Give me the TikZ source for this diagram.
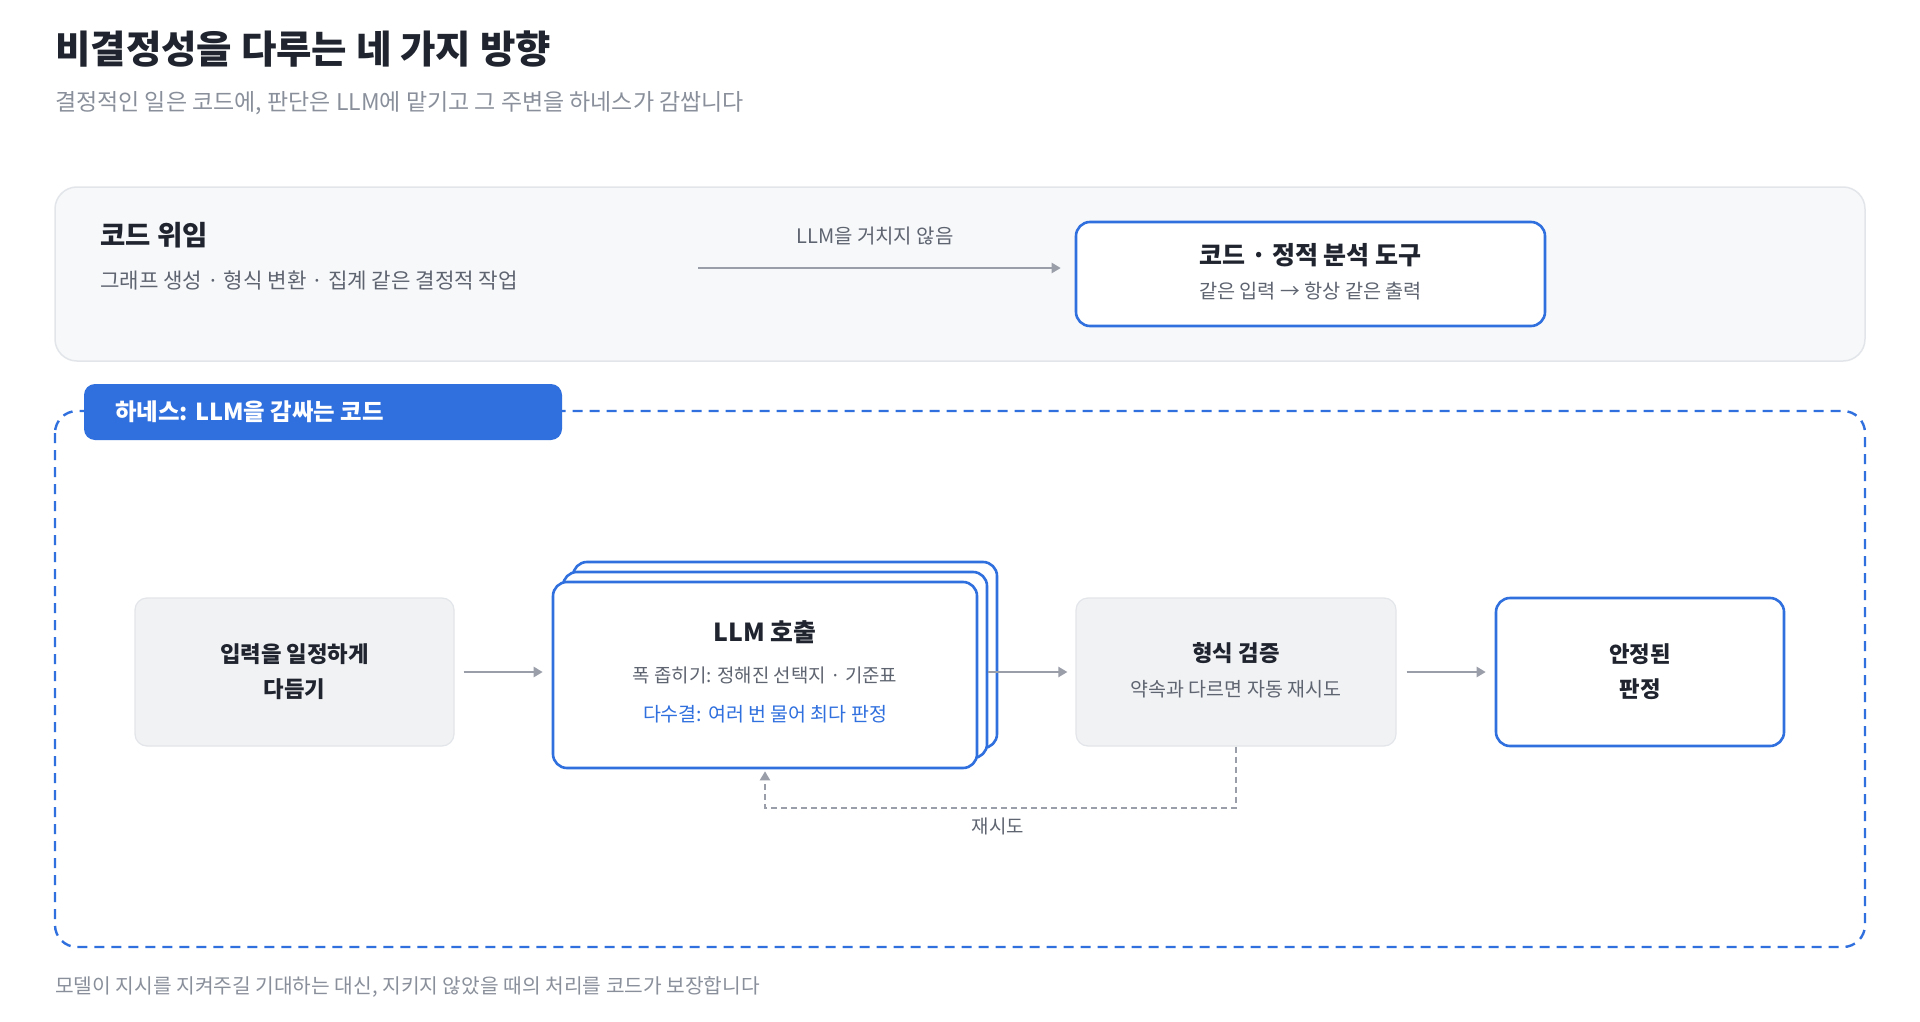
\documentclass[tikz,border=0pt]{standalone}
\usepackage{fontspec}
\setmainfont{Noto Sans CJK KR}
\usetikzlibrary{arrows.meta,positioning,calc}
\definecolor{mainblue}{RGB}{47,111,222}
\definecolor{darktext}{RGB}{31,36,46}
\definecolor{midgray}{RGB}{94,100,112}
\definecolor{lightgray}{RGB}{138,144,155}
\definecolor{panelfill}{RGB}{247,248,250}
\definecolor{panelline}{RGB}{226,229,233}
\definecolor{nodefill}{RGB}{241,242,244}
\definecolor{arrowgray}{RGB}{154,158,168}
\newcommand{\fs}[1]{\fontsize{#1}{#1}\selectfont}
\tikzset{
  graybox/.style={draw=panelline, line width=1.2pt, fill=nodefill, rounded corners=12pt, inner sep=0pt},
  bluebox/.style={draw=mainblue, line width=2.6pt, fill=white, rounded corners=14pt, inner sep=0pt},
  flowarrow/.style={draw=arrowgray, line width=2.6pt, -{Triangle[length=9pt,width=10pt]}},
  txt/.style={inner sep=0pt, text=darktext},
}
\begin{document}
\begin{tikzpicture}[x=1pt,y=-1pt]
\useasboundingbox (0,0) rectangle (1920,1022);
\fill[white] (0,0) rectangle (1920,1022);

% title and subtitle
\node[txt, anchor=west, font=\fs{38.5}\bfseries] (title) at (55,49) {비결정성을 다루는 네 가지 방향};
\node[txt, anchor=west, font=\fs{23}, text=lightgray] (subtitle) at (55,103) {결정적인 일은 코드에, 판단은 LLM에 맡기고 그 주변을 하네스가 감쌉니다};

% top panel
\node[draw=panelline, line width=1.5pt, fill=panelfill, rounded corners=22pt, minimum width=1810pt, minimum height=174pt, inner sep=0pt] (panel) at (960,274) {};
\node[txt, anchor=west, font=\fs{27.5}\bfseries] (codetitle) at (100,235) {코드 위임};
\node[txt, anchor=west, font=\fs{21.2}, text=midgray] (codesub) at (100,280) {그래프 생성 · 형식 변환 · 집계 같은 결정적 작업};
\node[bluebox, minimum width=469pt, minimum height=104pt] (tool) at (1310.5,274) {};
\node[txt, font=\fs{25}\bfseries] (tooltitle) at (1310.5,255) {코드 · 정적 분석 도구};
\node[txt, font=\fs{19.7}, text=midgray] (toolsub) at (1310.5,291) {같은 입력 → 항상 같은 출력};
\coordinate (astart) at (698,268);
\draw[flowarrow, line width=2.2pt] (astart) -- (astart -| tool.west) [shorten >=14pt];
\node[txt, font=\fs{20}, text=midgray] (nollm) at (875,236) {LLM을 거치지 않음};

% harness frame
\draw[mainblue, line width=2.4pt, dash pattern=on 10pt off 7pt, rounded corners=22pt] (55,411) rectangle (1865,947);
\node[fill=mainblue, rounded corners=11pt, minimum width=478pt, minimum height=56pt, inner sep=0pt] (tab) at (323,412) {};
\node[txt, anchor=west, font=\fs{23.4}\bfseries, text=white] (tabtext) at (115,412) {하네스: LLM을 감싸는 코드};

% flow nodes
\node[graybox, minimum width=319pt, minimum height=148pt, align=center, font=\fs{22.3}\bfseries, text=darktext] (prep) at (294.5,672) {입력을 일정하게\\[13pt]다듬기};

\node[bluebox, minimum width=424pt, minimum height=186pt] (llmc) at (785,655) {};
\node[bluebox, minimum width=424pt, minimum height=186pt] (llmb) at (775,665) {};
\node[bluebox, minimum width=424pt, minimum height=186pt] (llm) at (765,675) {};
\node[txt, font=\fs{24.8}\bfseries] (llmtitle) at (765,632) {LLM 호출};
\node[txt, font=\fs{18.9}, text=midgray] (llmsub1) at (765,675) {폭 좁히기: 정해진 선택지 · 기준표};
\node[txt, font=\fs{19.5}, text=mainblue] (llmsub2) at (765,714) {다수결: 여러 번 물어 최다 판정};

\node[graybox, minimum width=320pt, minimum height=148pt] (check) at (1236,672) {};
\node[txt, font=\fs{22.3}\bfseries] (checktitle) at (1236,653) {형식 검증};
\node[txt, font=\fs{19.5}, text=midgray] (checksub) at (1236,689) {약속과 다르면 자동 재시도};

\node[bluebox, minimum width=288pt, minimum height=148pt, align=center, font=\fs{22.3}\bfseries, text=darktext] (result) at (1640,672) {안정된\\[13pt]판정};

% flow arrows
\draw[flowarrow, shorten <=9pt, shorten >=9pt] (prep.east) -- (prep.east -| llm.west);
\draw[flowarrow, shorten <=10pt, shorten >=8pt] (prep.east -| llm.east) -- (check.west);
\draw[flowarrow, shorten <=10pt, shorten >=9pt] (check.east) -- (result.west);

% retry loop
\coordinate (rdown) at ($(check.south)+(0,61)$);
\draw[draw=arrowgray, line width=2pt, dash pattern=on 6pt off 4pt, -{Triangle[length=9pt,width=10pt]}, shorten >=2pt]
  (check.south) -- (rdown) -- (rdown -| llm.south) -- (llm.south);
\node[txt, font=\fs{18.9}, text=midgray] (retry) at (998,826) {재시도};

% footer
\node[txt, anchor=west, font=\fs{20.3}, text=lightgray] (footer) at (55,987) {모델이 지시를 지켜주길 기대하는 대신, 지키지 않았을 때의 처리를 코드가 보장합니다};
\end{tikzpicture}
\end{document}
